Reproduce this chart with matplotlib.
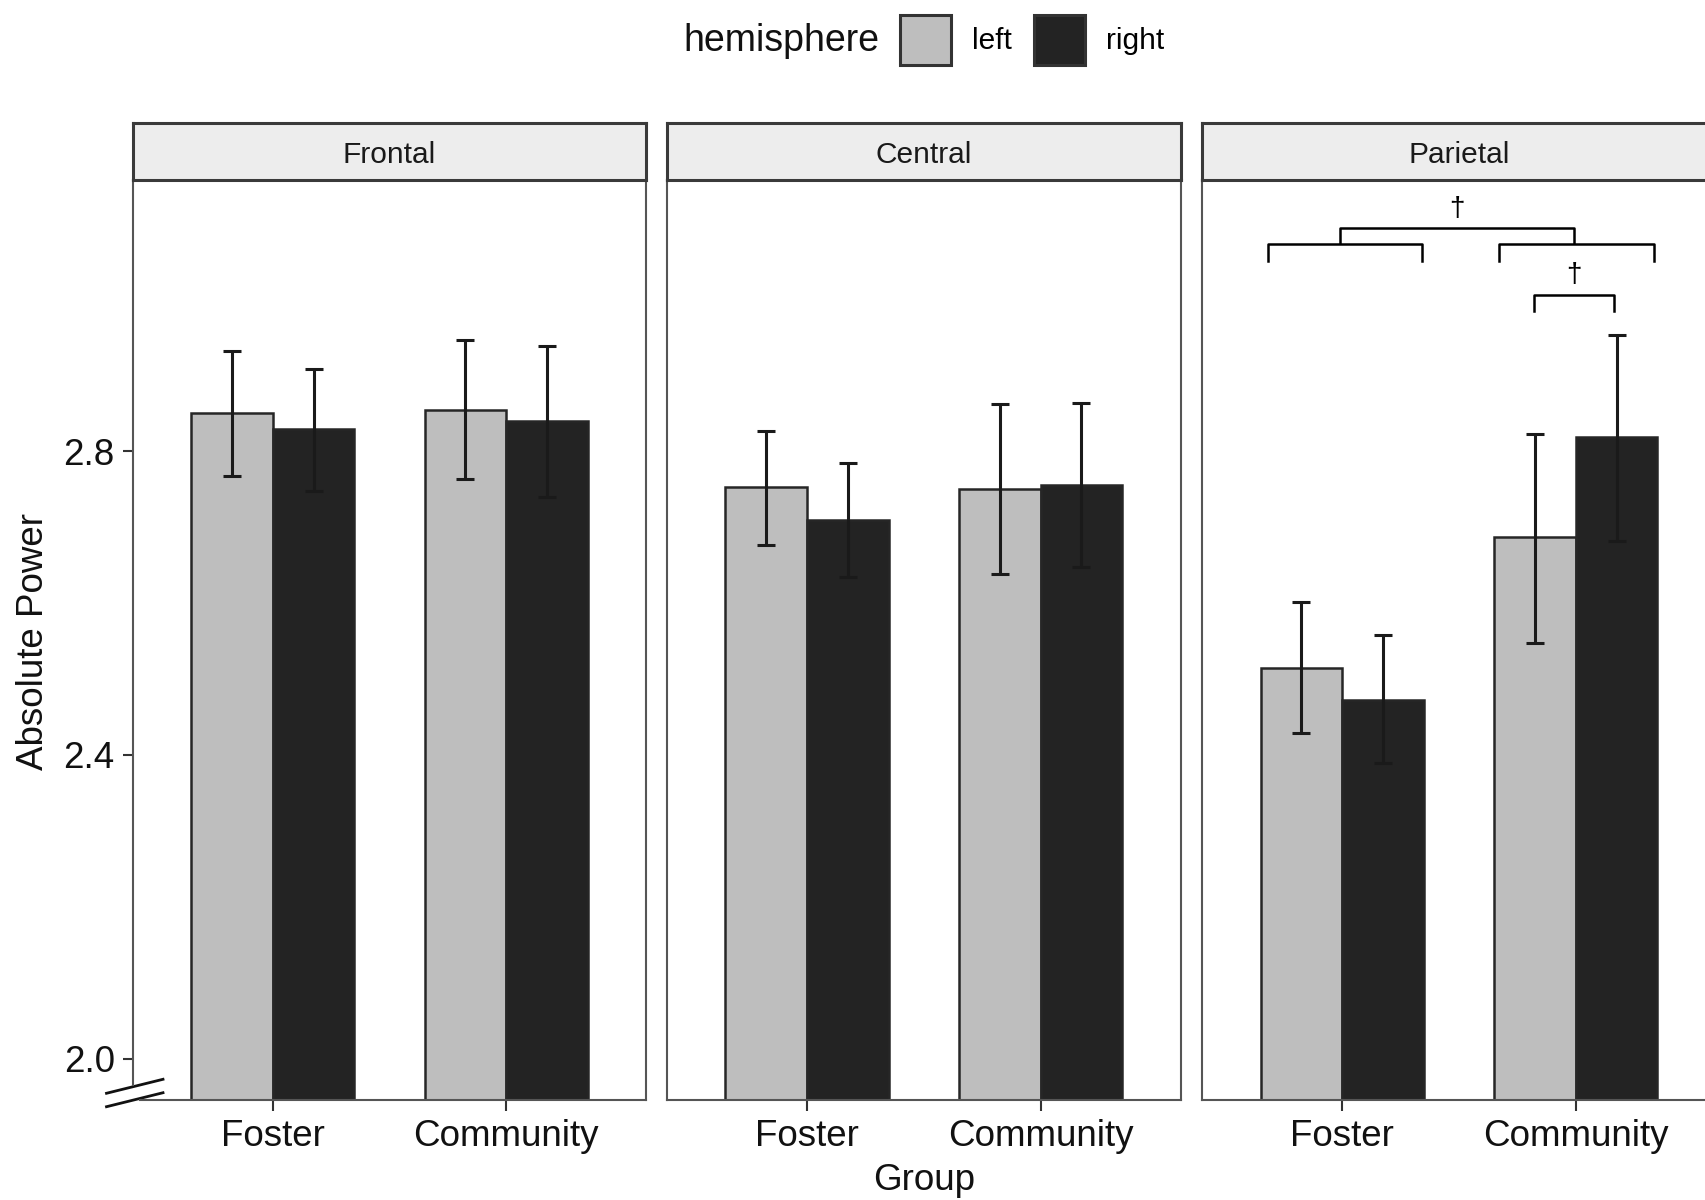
import matplotlib.pyplot as plt
from matplotlib.patches import Patch
import numpy as np

plt.rcParams['font.family'] = ['Liberation Sans', 'DejaVu Sans']

# data (Foster, Community) per region
regions = ["Frontal", "Central", "Parietal"]
groups = ["Foster", "Community"]
hemispheres = ["left", "right"]

mean_left = [[2.850, 2.854], [2.753, 2.750], [2.515, 2.687]]
mean_right = [[2.829, 2.840], [2.710, 2.756], [2.473, 2.819]]
lo_left = [[2.767, 2.763], [2.677, 2.638], [2.429, 2.548]]
hi_left = [[2.932, 2.946], [2.827, 2.862], [2.601, 2.823]]
lo_right = [[2.748, 2.740], [2.634, 2.648], [2.389, 2.682]]
hi_right = [[2.908, 2.939], [2.784, 2.863], [2.558, 2.953]]

# significance brackets in the Parietal panel: x0, x1, y_leg, y_bar
brackets = [
    (0.681, 1.343, 3.050, 3.073),
    (1.673, 2.335, 3.050, 3.073),
    (0.990, 1.993, 3.074, 3.094),
    (1.823, 2.165, 2.985, 3.006),
]
daggers = [(1.49, 3.119), (1.994, 3.0325)]

fill_colors = {"left": "#bebebe", "right": "#232323"}
edge = "#262626"
ylim = (1.9455, 3.158)
bar_w = 0.35

fig = plt.figure(figsize=(17.06, 12), dpi=100)
W, H = 1706, 1200
lefts = [132.7, 667.0, 1202.2]
ax_w = 513.6 / W
ax_b = 100 / H
ax_h = 920.5 / H
strip_h = 56.5 / H

x = np.arange(1, len(groups) + 1)

for i, region in enumerate(regions):
    ax = fig.add_axes([lefts[i] / W, ax_b, ax_w, ax_h])
    ax.bar(x - bar_w / 2, mean_left[i], width=bar_w, color=fill_colors["left"],
           edgecolor=edge, linewidth=1.8, zorder=2)
    ax.bar(x + bar_w / 2, mean_right[i], width=bar_w, color=fill_colors["right"],
           edgecolor=edge, linewidth=1.8, zorder=2)
    for off, m, lo, hi in [(-bar_w / 2, mean_left[i], lo_left[i], hi_left[i]),
                           (bar_w / 2, mean_right[i], lo_right[i], hi_right[i])]:
        m = np.array(m)
        ax.errorbar(x + off, m, yerr=[m - np.array(lo), np.array(hi) - m],
                    fmt='none', ecolor='#1a1a1a', elinewidth=2.2,
                    capsize=6.5, capthick=2.2, zorder=3)
    ax.set_xlim(0.4, 2.6)
    ax.set_ylim(*ylim)
    ax.set_xticks(x)
    ax.set_xticklabels(groups)
    ax.tick_params(axis='x', length=8, width=1.5, color='#333333', pad=6,
                   labelsize=26.5, labelcolor='#111111')
    for s in ax.spines.values():
        s.set_color('#555555')
        s.set_linewidth(1.5)
    if i == 0:
        ax.set_yticks([2.0, 2.4, 2.8])
        ax.set_yticklabels(["2.0", "2.4", "2.8"])
        ax.tick_params(axis='y', length=7, width=1.5, color='#333333', pad=6,
                       labelsize=26.5, labelcolor='#111111')
        ax.spines['left'].set_bounds(1.965, ylim[1])
        ax.spines['bottom'].set_bounds(0.433, 2.6)
        # axis break marks
        ax.plot([-0.051, 0.059], [0.0073, 0.0225], transform=ax.transAxes,
                color='#111111', lw=2, clip_on=False)
        ax.plot([-0.051, 0.059], [-0.0073, 0.0079], transform=ax.transAxes,
                color='#111111', lw=2, clip_on=False)
    else:
        ax.tick_params(axis='y', left=False, labelleft=False)
    if region == "Parietal":
        for x0, x1, yl, yb in brackets:
            ax.plot([x0, x0, x1, x1], [yl, yb, yb, yl], color='black', lw=1.8,
                    zorder=4)
        for dx, dy in daggers:
            ax.text(dx, dy, "\u2020", ha='center', va='center', fontsize=20)

    sax = fig.add_axes([lefts[i] / W, ax_b + ax_h, ax_w, strip_h])
    sax.set_facecolor('#ededed')
    sax.set_xticks([])
    sax.set_yticks([])
    for s in sax.spines.values():
        s.set_color('#3a3a3a')
        s.set_linewidth(2.2)
    sax.text(0.5, 0.43, region, ha='center', va='center', fontsize=21.5,
             color='#1a1a1a', transform=sax.transAxes)

fig.text(34 / W, 0.465, "Absolute Power", rotation=90, ha='center',
         va='center', fontsize=26.5, color='#111111')
fig.text(924 / W, 0.016, "Group", ha='center', va='center', fontsize=26.5,
         color='#111111')

# legend on top
fig.text(879 / W, 1 - 41 / H, "hemisphere", ha='right', va='center',
         fontsize=27, color='#111111')
handles = [Patch(facecolor=fill_colors[h], edgecolor='#333333', linewidth=2.2)
           for h in hemispheres]
fig.legend(handles, hemispheres, ncol=2, loc='center left',
           bbox_to_anchor=(900 / W, 1 - 40 / H), frameon=False, fontsize=21.5,
           handlelength=1.7, handleheight=2.2, handletextpad=0.7,
           columnspacing=0.75, borderpad=0, borderaxespad=0)

fig.savefig("out.png", dpi=100)
